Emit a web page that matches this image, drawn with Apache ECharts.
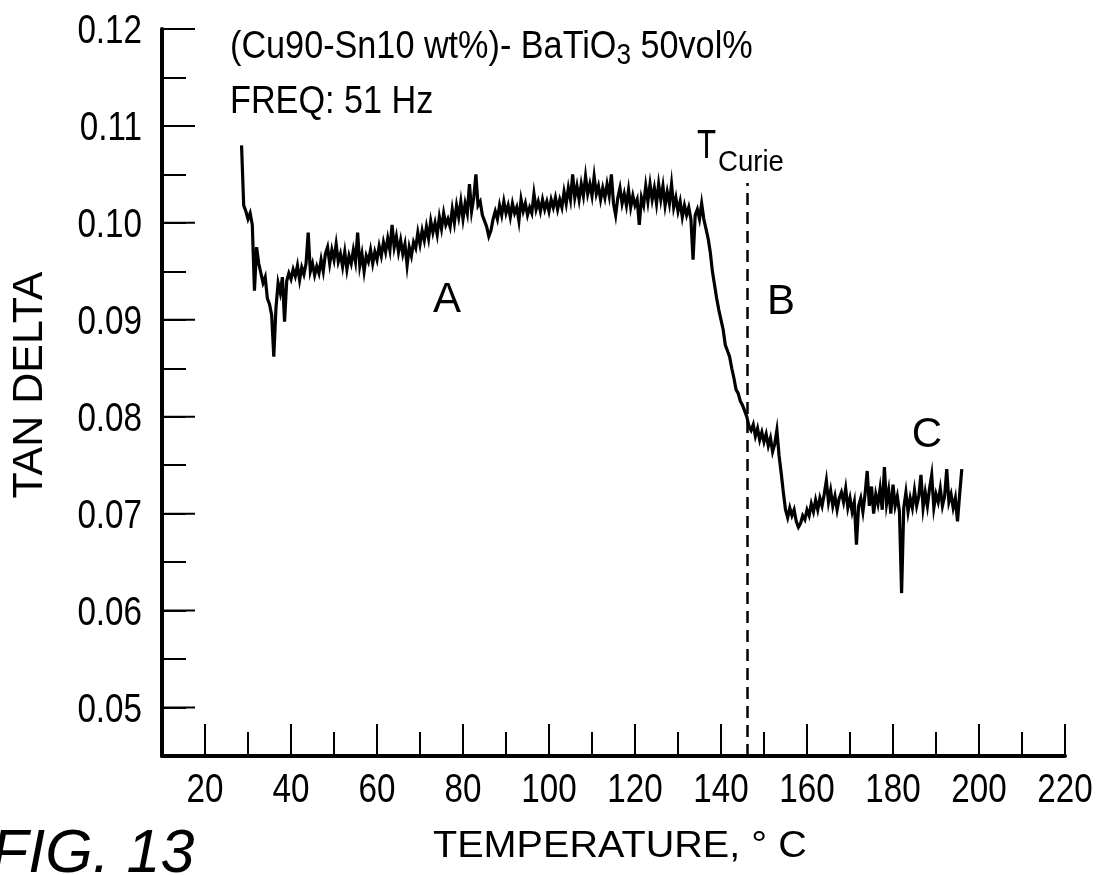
<!DOCTYPE html>
<html>
<head>
<meta charset="utf-8">
<script src="https://cdn.jsdelivr.net/npm/echarts@6/dist/echarts.min.js"></script>
<style>
html,body{margin:0;padding:0;background:#fff;}
#chart{width:1099px;height:875px;}
</style>
</head>
<body>
<div id="chart"></div>
<script>
// ---- data ----
const temps = [
  28.5, 29, 29.5, 30, 30.5, 31, 31.5, 32, 32.5, 33,
  33.5, 34, 34.5, 35, 35.5, 36, 36.5, 37, 37.5, 38,
  38.5, 39, 39.5, 40, 40.5, 41, 41.5, 42, 42.5, 43,
  43.5, 44, 44.5, 45, 45.5, 46, 46.5, 47, 47.5, 48,
  48.5, 49, 49.5, 50, 50.5, 51, 51.5, 52, 52.5, 53,
  53.5, 54, 54.5, 55, 55.5, 56, 56.5, 57, 57.5, 58,
  58.5, 59, 59.5, 60, 60.5, 61, 61.5, 62, 62.5, 63,
  63.5, 64, 64.5, 65, 65.5, 66, 66.5, 67, 67.5, 68,
  68.5, 69, 69.5, 70, 70.5, 71, 71.5, 72, 72.5, 73,
  73.5, 74, 74.5, 75, 75.5, 76, 76.5, 77, 77.5, 78,
  78.5, 79, 79.5, 80, 80.5, 81, 81.5, 82, 82.5, 83,
  83.5, 84, 84.5, 85, 85.5, 86, 86.5, 87, 87.5, 88,
  88.5, 89, 89.5, 90, 90.5, 91, 91.5, 92, 92.5, 93,
  93.5, 94, 94.5, 95, 95.5, 96, 96.5, 97, 97.5, 98,
  98.5, 99, 99.5, 100, 100.5, 101, 101.5, 102, 102.5, 103,
  103.5, 104, 104.5, 105, 105.5, 106, 106.5, 107, 107.5, 108,
  108.5, 109, 109.5, 110, 110.5, 111, 111.5, 112, 112.5, 113,
  113.5, 114, 114.5, 115, 115.5, 116, 116.5, 117, 117.5, 118,
  118.5, 119, 119.5, 120, 120.5, 121, 121.5, 122, 122.5, 123,
  123.5, 124, 124.5, 125, 125.5, 126, 126.5, 127, 127.5, 128,
  128.5, 129, 129.5, 130, 130.5, 131, 131.5, 132, 132.5, 133,
  133.5, 134, 134.5, 135, 135.5, 136, 136.5, 137, 137.5, 138,
  138.5, 139, 139.5, 140, 140.5, 141, 141.5, 142, 142.5, 143,
  143.5, 144, 144.5, 145, 145.5, 146, 146.5, 147, 147.5, 148,
  148.5, 149, 149.5, 150, 150.5, 151, 151.5, 152, 152.5, 153,
  153.5, 154, 154.5, 155, 155.5, 156, 156.5, 157, 157.5, 158,
  158.5, 159, 159.5, 160, 160.5, 161, 161.5, 162, 162.5, 163,
  163.5, 164, 164.5, 165, 165.5, 166, 166.5, 167, 167.5, 168,
  168.5, 169, 169.5, 170, 170.5, 171, 171.5, 172, 172.5, 173,
  173.5, 174, 174.5, 175, 175.5, 176, 176.5, 177, 177.5, 178,
  178.5, 179, 179.5, 180, 180.5, 181, 181.5, 182, 182.5, 183,
  183.5, 184, 184.5, 185, 185.5, 186, 186.5, 187, 187.5, 188,
  188.5, 189, 189.5, 190, 190.5, 191, 191.5, 192, 192.5, 193,
  193.5, 194, 194.5, 195, 195.5, 196
];
const tanDelta = [
  0.1080, 0.1018, 0.1012, 0.1004, 0.1010, 0.0998, 0.0930, 0.0975, 0.0958, 0.0948,
  0.0938, 0.0944, 0.0922, 0.0916, 0.0905, 0.0862, 0.0912, 0.0938, 0.0928, 0.0944,
  0.0898, 0.0940, 0.0948, 0.0942, 0.0952, 0.0945, 0.0956, 0.0941, 0.0954, 0.0947,
  0.0958, 0.0990, 0.0950, 0.0958, 0.0946, 0.0955, 0.0948, 0.0962, 0.0950, 0.0968,
  0.0975, 0.0958, 0.0972, 0.0962, 0.0978, 0.0960, 0.0968, 0.0955, 0.0970, 0.0952,
  0.0966, 0.0958, 0.0972, 0.0960, 0.0990, 0.0956, 0.0968, 0.0950, 0.0966, 0.0960,
  0.0972, 0.0958, 0.0970, 0.0962, 0.0976, 0.0966, 0.0980, 0.0970, 0.0984, 0.0972,
  0.0998, 0.0975, 0.0986, 0.0970, 0.0982, 0.0968, 0.0978, 0.0956, 0.0975, 0.0966,
  0.0980, 0.0974, 0.0990, 0.0978, 0.0992, 0.0982, 0.0996, 0.0984, 0.1002, 0.0990,
  0.1000, 0.0988, 0.1006, 0.0994, 0.1010, 0.0998, 0.1004, 0.0996, 0.1014, 0.1000,
  0.1018, 0.1006, 0.1022, 0.1004, 0.1020, 0.1010, 0.1040, 0.1012, 0.1026, 0.1050,
  0.1018, 0.1022, 0.1008, 0.1002, 0.0996, 0.0986, 0.0992, 0.1004, 0.1012, 0.1004,
  0.1018, 0.1008, 0.1022, 0.1010, 0.1018, 0.1006, 0.1020, 0.1010, 0.1016, 0.1002,
  0.1024, 0.1012, 0.1020, 0.1008, 0.1016, 0.1010, 0.1030, 0.1014, 0.1022, 0.1012,
  0.1024, 0.1014, 0.1022, 0.1012, 0.1024, 0.1016, 0.1026, 0.1014, 0.1024, 0.1016,
  0.1032, 0.1020, 0.1036, 0.1024, 0.1050, 0.1026, 0.1038, 0.1024, 0.1040, 0.1028,
  0.1048, 0.1030, 0.1040, 0.1028, 0.1048, 0.1030, 0.1038, 0.1024, 0.1036, 0.1026,
  0.1040, 0.1028, 0.1050, 0.1020, 0.1008, 0.1026, 0.1036, 0.1020, 0.1030, 0.1018,
  0.1034, 0.1016, 0.1028, 0.1018, 0.1024, 0.0998, 0.1026, 0.1018, 0.1038, 0.1022,
  0.1040, 0.1024, 0.1036, 0.1020, 0.1040, 0.1024, 0.1038, 0.1018, 0.1032, 0.1020,
  0.1040, 0.1016, 0.1026, 0.1012, 0.1022, 0.1006, 0.1018, 0.1008, 0.1016, 0.1004,
  0.0962, 0.1008, 0.1014, 0.1004, 0.1020, 0.1004, 0.0994, 0.0984, 0.0970, 0.0950,
  0.0936, 0.0922, 0.0910, 0.0900, 0.0890, 0.0874, 0.0868, 0.0862, 0.0850, 0.0840,
  0.0828, 0.0824, 0.0816, 0.0812, 0.0806, 0.0800, 0.0790, 0.0786, 0.0792, 0.0780,
  0.0788, 0.0776, 0.0784, 0.0774, 0.0782, 0.0770, 0.0778, 0.0764, 0.0772, 0.0786,
  0.0760, 0.0742, 0.0722, 0.0704, 0.0696, 0.0706, 0.0698, 0.0704, 0.0692, 0.0686,
  0.0690, 0.0698, 0.0694, 0.0704, 0.0698, 0.0710, 0.0702, 0.0714, 0.0704, 0.0716,
  0.0708, 0.0720, 0.0734, 0.0712, 0.0724, 0.0708, 0.0718, 0.0704, 0.0716, 0.0722,
  0.0712, 0.0726, 0.0706, 0.0716, 0.0702, 0.0712, 0.0668, 0.0708, 0.0716, 0.0702,
  0.0720, 0.0744, 0.0708, 0.0728, 0.0700, 0.0720, 0.0710, 0.0726, 0.0704, 0.0748,
  0.0710, 0.0724, 0.0700, 0.0730, 0.0708, 0.0718, 0.0702, 0.0618, 0.0706, 0.0722,
  0.0702, 0.0716, 0.0706, 0.0724, 0.0708, 0.0718, 0.0740, 0.0706, 0.0722, 0.0708,
  0.0726, 0.0740, 0.0706, 0.0720, 0.0712, 0.0726, 0.0708, 0.0718, 0.0746, 0.0712,
  0.0720, 0.0706, 0.0716, 0.0692, 0.0720, 0.0746
];
const xTickLabels = [20, 40, 60, 80, 100, 120, 140, 160, 180, 200, 220];
const yTickLabels = [0.05, 0.06, 0.07, 0.08, 0.09, 0.10, 0.11, 0.12];
const curieTemp = 146;
const curieLineTop = 0.1041;
const xMin = 10, xMax = 220, yMin = 0.045, yMax = 0.12;

// ---- chart ----
const SANS = "'Liberation Sans', Arial, Helvetica, sans-serif";
const TICK_FONT = 40, TICK_SCALE = 0.83;   // emulate the condensed face of the original
const chart = echarts.init(document.getElementById('chart'), null, {renderer: 'canvas'});

const option = {
  animation: false,
  backgroundColor: '#fff',
  grid: {left: 162, right: 34, top: 29, bottom: 119, containLabel: false},
  xAxis: {
    type: 'value', min: xMin, max: xMax, interval: 10,
    axisLine: {show: true, lineStyle: {color: '#000', width: 4}},
    axisTick: {show: true, inside: true, length: 24, lineStyle: {color: '#000', width: 2}},
    axisLabel: {show: false},
    splitLine: {show: false}
  },
  yAxis: {
    type: 'value', min: yMin, max: yMax, interval: 0.005,
    axisLine: {show: true, lineStyle: {color: '#000', width: 4}},
    axisTick: {show: true, inside: true, length: 24, lineStyle: {color: '#000', width: 2}},
    axisLabel: {show: false},
    splitLine: {show: false}
  },
  series: [
    {
      type: 'line',
      data: temps.map((t, i) => [t, tanDelta[i]]),
      showSymbol: false,
      symbol: 'none',
      sampling: 'none',
      lineStyle: {color: '#000', width: 3.2, join: 'miter'},
      z: 3,
      markLine: {
        silent: true,
        symbol: 'none',
        label: {show: false},
        lineStyle: {color: '#000', width: 2.5, type: [12, 7]},
        data: [[{coord: [curieTemp, yMin]}, {coord: [curieTemp, curieLineTop]}]]
      }
    },
    {
      // long (major) ticks + labels on the y axis
      type: 'custom', silent: true, clip: false, z: 4,
      data: yTickLabels.map(v => [xMin, v]),
      renderItem: (params, api) => {
        const v = api.value(1);
        const p = api.coord([api.value(0), v]);
        return {type: 'group', children: [
          {type: 'line', shape: {x1: p[0], y1: p[1], x2: p[0] + 33, y2: p[1]},
           style: {stroke: '#000', lineWidth: 2}},
          {type: 'text', x: p[0] - 20, y: p[1] + 3, scaleX: TICK_SCALE,
           style: {text: v.toFixed(2), fontSize: TICK_FONT, fontFamily: SANS, fill: '#000',
                   align: 'right', verticalAlign: 'middle'}}
        ]};
      }
    },
    {
      // long (major) ticks + labels on the x axis
      type: 'custom', silent: true, clip: false, z: 4,
      data: xTickLabels.map(v => [v, yMin]),
      renderItem: (params, api) => {
        const v = api.value(0);
        const p = api.coord([v, api.value(1)]);
        return {type: 'group', children: [
          {type: 'line', shape: {x1: p[0], y1: p[1], x2: p[0], y2: p[1] - 32},
           style: {stroke: '#000', lineWidth: 2}},
          {type: 'text', x: p[0], y: p[1] + 35, scaleX: TICK_SCALE,
           style: {text: String(Math.round(v)), fontSize: TICK_FONT, fontFamily: SANS, fill: '#000',
                   align: 'center', verticalAlign: 'middle'}}
        ]};
      }
    }
  ],
  graphic: [
    {
      type: 'text', x: 230, y: 26, scaleX: 0.9, silent: true,
      style: {
        text: '{m|(Cu90-Sn10 wt%)- BaTiO}{s|3}{m| 50vol%}',
        rich: {
          m: {fontSize: 38, fontFamily: SANS, fill: '#000', lineHeight: 44},
          s: {fontSize: 29, fontFamily: SANS, fill: '#000', lineHeight: 20, verticalAlign: 'bottom'}
        }
      }
    },
    {
      type: 'text', x: 230, y: 103, scaleX: 0.9, silent: true,
      style: {text: 'FREQ: 51 Hz', fontSize: 38, fontFamily: SANS, fill: '#000',
              align: 'left', verticalAlign: 'middle'}
    },
    {
      type: 'text', x: 697, y: 147, scaleX: 0.78, silent: true,
      style: {text: 'T', fontSize: 40, fontFamily: SANS, fill: '#000', align: 'left', verticalAlign: 'middle'}
    },
    {
      type: 'text', x: 718, y: 163, scaleX: 0.92, silent: true,
      style: {text: 'Curie', fontSize: 30, fontFamily: SANS, fill: '#000', align: 'left', verticalAlign: 'middle'}
    },
    {
      type: 'text', x: 447, y: 300, silent: true,
      style: {text: 'A', fontSize: 42, fontFamily: SANS, fill: '#000', align: 'center', verticalAlign: 'middle'}
    },
    {
      type: 'text', x: 781, y: 302, silent: true,
      style: {text: 'B', fontSize: 42, fontFamily: SANS, fill: '#000', align: 'center', verticalAlign: 'middle'}
    },
    {
      type: 'text', x: 927, y: 435, silent: true,
      style: {text: 'C', fontSize: 42, fontFamily: SANS, fill: '#000', align: 'center', verticalAlign: 'middle'}
    },
    {
      type: 'text', x: 30, y: 385, rotation: Math.PI / 2, silent: true,
      style: {text: 'TAN DELTA', fontSize: 43, fontFamily: SANS, fill: '#000', align: 'center', verticalAlign: 'middle'}
    },
    {
      type: 'text', x: 433, y: 847, scaleX: 1.1, silent: true,
      style: {text: 'TEMPERATURE, ° C', fontSize: 36, fontFamily: SANS, fill: '#000', align: 'left', verticalAlign: 'middle'}
    },
    {
      type: 'text', x: -9, y: 855, silent: true,
      style: {text: 'FIG. 13', fontSize: 61, fontStyle: 'italic', fontFamily: SANS, fill: '#000', align: 'left', verticalAlign: 'middle'}
    }
  ]
};
chart.setOption(option);
</script>
</body>
</html>
